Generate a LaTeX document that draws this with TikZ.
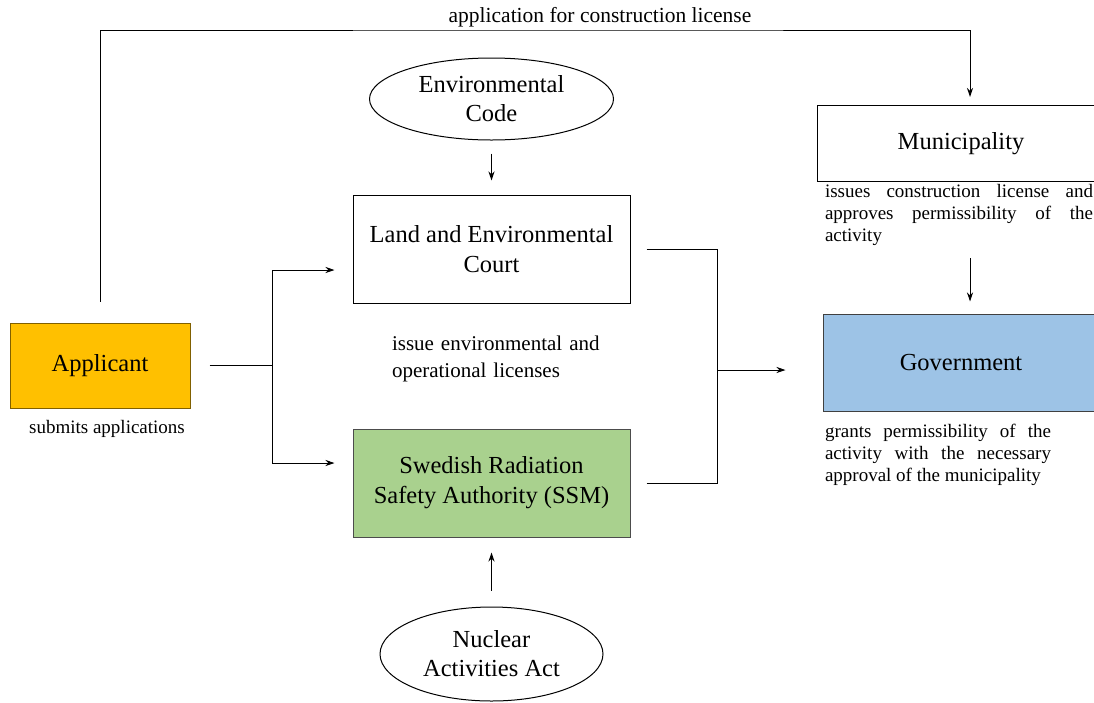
\documentclass[tikz,border=0pt]{standalone}
\usepackage{fontspec}
\setmainfont{Liberation Serif}
\usetikzlibrary{positioning, shapes.geometric, arrows.meta}
\definecolor{applicantorange}{HTML}{FFC000}
\definecolor{ssmgreen}{HTML}{A9D18E}
\definecolor{govblue}{HTML}{9DC3E6}
\hyphenpenalty=10000
\exhyphenpenalty=10000

\begin{document}
\begin{tikzpicture}[>={Stealth[length=9pt,width=6pt]}, line width=1pt, on grid,
  box/.style={draw, rectangle, inner sep=0pt, font=\fontsize{24.5}{30}\selectfont, align=center},
  law/.style={draw, ellipse, inner sep=0pt, font=\fontsize{24.5}{29}\selectfont, align=center},
  note/.style={inner sep=0pt, font=\fontsize{19}{22}\selectfont, align=justify}]
  \useasboundingbox (0pt,0pt) rectangle (1094pt,-702pt);
  \node[box, fill=applicantorange, draw=black!50!applicantorange, minimum width=180pt, minimum height=85pt] (applicant) at (100pt,-365.5pt) {Applicant};
  \node[box, minimum width=277pt, minimum height=108pt] (court) [above right=116.5pt and 391.5pt of applicant] {Land and Environmental\\Court};
  \node[box, fill=ssmgreen, draw=black!70, minimum width=277pt, minimum height=108pt] (ssm) [below=234pt of court] {Swedish Radiation\\Safety Authority (SSM)};
  \node[law, minimum width=244pt, minimum height=82pt] (envcode) [above=150pt of court] {Environmental\\Code};
  \node[law, minimum width=223pt, minimum height=94pt] (nuclear) [below=171pt of ssm] {Nuclear\\Activities Act};
  \node[box, minimum width=288pt, minimum height=76pt] (municipality) [above right=105.5pt and 469.5pt of court] {Municipality};
  \node[box, fill=govblue, draw=black!75, minimum width=276pt, minimum height=97pt] (government) [below=219pt of municipality] {Government};

  \node[note, align=left] (apptext) [below=63.5pt of applicant, xshift=7pt] {submits applications};
  \node[note, text width=222pt, align=left, font=\fontsize{21}{27}\selectfont] (courttext) [below=109.5pt of court, xshift=11.5pt] {issue environmental and\\operational licenses};
  \node[note, text width=268pt] (munitext) [below=71.5pt of municipality, xshift=-2pt] {issues construction license and approves permissibility of the activity};
  \node[note, text width=226pt] (govtext) [below=92pt of government, xshift=-23pt] {grants permissibility of the activity with the necessary approval of the municipality};

  \coordinate (route) at (600pt,-30pt);
  \coordinate[right=172pt of applicant] (split);
  \coordinate (join) at (717pt,-370pt);
  \node[inner sep=0pt, font=\fontsize{21.5}{26}\selectfont] (routelabel) at (600pt,-17pt) {application for construction license};

  \draw[->, shorten >=8pt] ([yshift=21pt]applicant.north) |- (route) -| ([xshift=9pt]municipality.north);
  \draw[shorten <=19pt] (applicant) -- (split);
  \draw[->, shorten >=18pt] (split) |- ([yshift=-21pt]court.west);
  \draw[->, shorten >=18pt] (split) |- ([yshift=20pt]ssm.west);
  \draw[shorten <=16pt] (court.east) -| (join);
  \draw[shorten <=16pt] (ssm.east) -| (join);
  \draw[->, shorten >=37pt] (join) -- (join -| government.west);
  \draw[->, shorten <=13pt, shorten >=14pt] (envcode) -- (court);
  \draw[->, shorten <=16pt, shorten >=15pt] (nuclear) -- (ssm);
  \draw[->, shorten <=12pt, shorten >=12pt] ([xshift=11pt]munitext.south) -- ([xshift=9pt]government.north);
\end{tikzpicture}
\end{document}
